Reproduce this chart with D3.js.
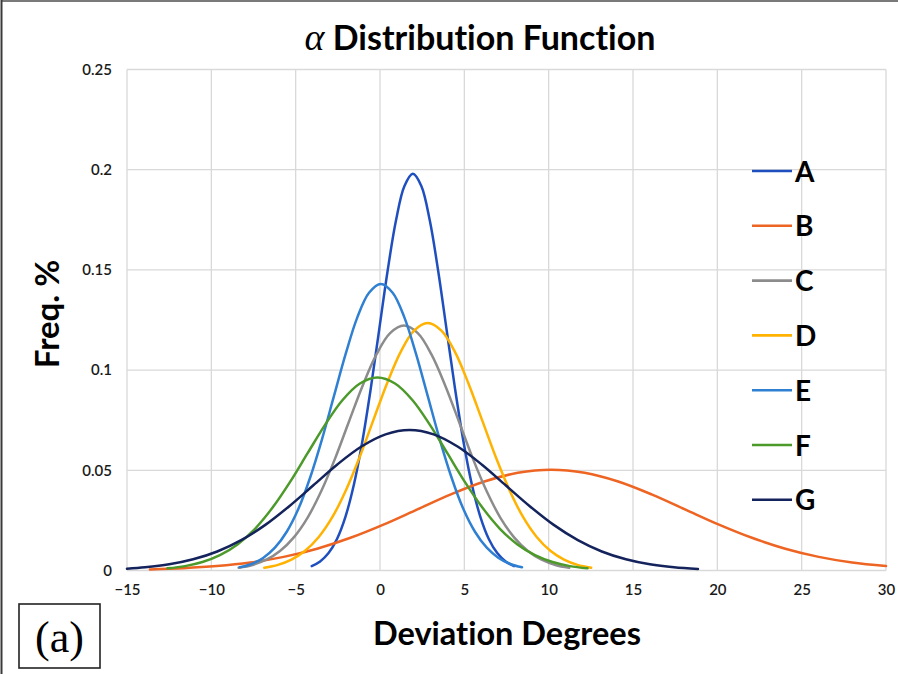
<!DOCTYPE html>
<html>
<head>
<meta charset="utf-8">
<script src="https://cdn.jsdelivr.net/npm/d3@7"></script>
<style>
  html, body { margin: 0; padding: 0; background: #fff; }
  svg { display: block; }
  text { font-variant-ligatures: none; }
</style>
</head>
<body>
<svg id="chart" width="898" height="674"></svg>
<script>
// Frequency curves of the deviation angle for the seven groups A–G
const seriesNames = ["A", "B", "C", "D", "E", "F", "G"];
const seriesColors = ["#1f4fbf", "#ee6422", "#8c8c8c", "#ffb200", "#2f80d2", "#4c9a2a", "#14235c"];

const xA = [-4.05, -3.55, -3.05, -2.55, -2.05, -1.55, -1.05, -0.55, -0.05, 0.45, 0.95, 1.45, 1.95,
            2.45, 2.95, 3.45, 3.95, 4.45, 4.95, 5.45, 5.95, 6.45, 6.95, 7.45, 7.95];
const yA = [0.0022, 0.00451, 0.0087, 0.01575, 0.0268, 0.04282, 0.06428, 0.09065, 0.12009, 0.14946, 0.17474, 0.19191, 0.198,
            0.19191, 0.17474, 0.14946, 0.12009, 0.09065, 0.06428, 0.04282, 0.0268, 0.01575, 0.0087, 0.00451, 0.0022];

const xB = [-13.64, -11.66, -9.68, -7.69, -5.71, -3.73, -1.75, 0.24, 2.22, 4.20, 6.19, 8.17, 10.15,
            12.13, 14.12, 16.10, 18.08, 20.06, 22.05, 24.03, 26.01, 27.99, 30];
const yB = [0.00056, 0.00115, 0.00221, 0.004, 0.00681, 0.01088, 0.01633, 0.02303, 0.03051, 0.03797, 0.04439, 0.04875, 0.0503,
            0.04875, 0.04439, 0.03797, 0.03051, 0.02303, 0.01633, 0.01088, 0.00681, 0.004, 0.00221];

const xC = [-8.38, -7.56, -6.74, -5.93, -5.11, -4.29, -3.48, -2.66, -1.85, -1.03, -0.21, 0.60, 1.42,
            2.24, 3.05, 3.87, 4.69, 5.50, 6.32, 7.13, 7.95, 8.77, 9.58, 10.40, 11.22];
const yC = [0.00136, 0.00278, 0.00537, 0.00972, 0.01654, 0.02643, 0.03967, 0.05595, 0.07412, 0.09224, 0.10784, 0.11844, 0.1222,
            0.11844, 0.10784, 0.09224, 0.07412, 0.05595, 0.03967, 0.02643, 0.01654, 0.00972, 0.00537, 0.00278, 0.00136];

const xD = [-6.86, -6.05, -5.25, -4.44, -3.63, -2.82, -2.02, -1.21, -0.40, 0.41, 1.22, 2.02, 2.83,
            3.64, 4.45, 5.25, 6.06, 6.87, 7.68, 8.48, 9.29, 10.10, 10.91, 11.71, 12.52];
const yD = [0.00137, 0.00281, 0.00543, 0.00983, 0.01671, 0.02671, 0.04009, 0.05654, 0.07491, 0.09322, 0.10899, 0.1197, 0.1235,
            0.1197, 0.10899, 0.09322, 0.07491, 0.05654, 0.04009, 0.02671, 0.01671, 0.00983, 0.00543, 0.00281, 0.00137];

const xE = [-8.32, -7.62, -6.93, -6.23, -5.53, -4.83, -4.14, -3.44, -2.74, -2.04, -1.35, -0.65, 0.05,
            0.75, 1.45, 2.14, 2.84, 3.54, 4.24, 4.93, 5.63, 6.33, 7.03, 7.72, 8.42];
const yE = [0.00159, 0.00326, 0.00628, 0.01138, 0.01935, 0.03093, 0.04642, 0.06547, 0.08673, 0.10794, 0.1262, 0.1386, 0.143,
            0.1386, 0.1262, 0.10794, 0.08673, 0.06547, 0.04642, 0.03093, 0.01935, 0.01138, 0.00628, 0.00326, 0.00159];

const xF = [-12.6, -11.56, -10.53, -9.49, -8.45, -7.41, -6.38, -5.34, -4.30, -3.26, -2.23, -1.19, -0.15,
            0.89, 1.93, 2.96, 4.0, 5.04, 6.08, 7.11, 8.15, 9.19, 10.23, 11.26, 12.3];
const yF = [0.00107, 0.00219, 0.00423, 0.00766, 0.01303, 0.02083, 0.03126, 0.04409, 0.05841, 0.07269, 0.08498, 0.09334, 0.0963,
            0.09334, 0.08498, 0.07269, 0.05841, 0.04409, 0.03126, 0.02083, 0.01303, 0.00766, 0.00423, 0.00219, 0.00107];

const xG = [-15, -13.93, -12.5, -11.08, -9.65, -8.23, -6.8, -5.38, -3.95, -2.53, -1.1, 0.33, 1.75,
            3.18, 4.6, 6.03, 7.45, 8.88, 10.3, 11.73, 13.15, 14.58, 16.0, 17.43, 18.85];
const yG = [0.00093, 0.0016, 0.00308, 0.00558, 0.00949, 0.01516, 0.02276, 0.03209, 0.04252, 0.05291, 0.06186, 0.06794, 0.0701,
            0.06794, 0.06186, 0.05291, 0.04252, 0.03209, 0.02276, 0.01516, 0.00949, 0.00558, 0.00308, 0.0016, 0.00078];

const xTicks = [-15, -10, -5, 0, 5, 10, 15, 20, 25, 30];
const yTicks = [0, 0.05, 0.1, 0.15, 0.2, 0.25];

const seriesX = [xA, xB, xC, xD, xE, xF, xG];
const seriesY = [yA, yB, yC, yD, yE, yF, yG];

const svg = d3.select("#chart");
const W = 898, H = 674;
const plot = { left: 127, right: 886, top: 69.5, bottom: 570.5 };

const x = d3.scaleLinear().domain([-15, 30]).range([plot.left, plot.right]);
const y = d3.scaleLinear().domain([0, 0.25]).range([plot.bottom, plot.top]);

// outer frame (top and left edges)
svg.append("line").attr("x1", 1).attr("x2", W).attr("y1", 1).attr("y2", 1)
  .attr("stroke", "#7a7a7a").attr("stroke-width", 2);
svg.append("line").attr("x1", 1.5).attr("x2", 1.5).attr("y1", 0).attr("y2", H)
  .attr("stroke", "#3a3a3a").attr("stroke-width", 2);

// gridlines
const grid = svg.append("g").attr("class", "grid");
grid.selectAll("line.v").data(xTicks).join("line")
  .attr("class", "v")
  .attr("x1", d => x(d)).attr("x2", d => x(d))
  .attr("y1", plot.top).attr("y2", plot.bottom)
  .attr("stroke", "#d9d9d9").attr("stroke-width", 1.3);
grid.selectAll("line.h").data(yTicks).join("line")
  .attr("class", "h")
  .attr("x1", plot.left).attr("x2", plot.right)
  .attr("y1", d => y(d)).attr("y2", d => y(d))
  .attr("stroke", "#d9d9d9").attr("stroke-width", 1.3);

// axes (labels only)
const uiFont = "Lato, 'Open Sans', sans-serif";
const xAxis = d3.axisBottom(x).tickValues(xTicks).tickSize(0).tickPadding(14).tickFormat(d3.format("d"));
const gx = svg.append("g").attr("transform", `translate(0,${plot.bottom})`).call(xAxis);
gx.select(".domain").remove();
gx.selectAll("text").attr("font-family", uiFont).attr("font-size", 15).attr("font-weight", 600).attr("fill", "#1a1a1a");

const yAxis = d3.axisLeft(y).tickValues(yTicks).tickSize(0).tickPadding(15).tickFormat(d => d === 0 ? "0" : String(+d.toFixed(2)));
const gy = svg.append("g").attr("transform", `translate(${plot.left},0)`).call(yAxis);
gy.select(".domain").remove();
gy.selectAll("text").attr("font-family", uiFont).attr("font-size", 15).attr("font-weight", 600).attr("fill", "#1a1a1a");

// curves
const line = d3.line()
  .x(d => x(d[0]))
  .y(d => y(d[1]))
  .curve(d3.curveCatmullRom.alpha(0.5));

const curves = svg.append("g").attr("class", "curves");
seriesNames.forEach((name, i) => {
  const pts = seriesX[i].map((v, j) => [v, seriesY[i][j]]);
  curves.append("path")
    .datum(pts)
    .attr("d", line)
    .attr("fill", "none")
    .attr("stroke", seriesColors[i])
    .attr("stroke-width", 2.5)
    .attr("stroke-linecap", "round");
});

// legend
const legend = svg.append("g").attr("class", "legend");
const legTop = 171, legStep = 54.8;
seriesNames.forEach((name, i) => {
  const ly = legTop + i * legStep;
  legend.append("line")
    .attr("x1", 752).attr("x2", 792).attr("y1", ly).attr("y2", ly)
    .attr("stroke", seriesColors[i]).attr("stroke-width", 2.6);
  legend.append("text")
    .attr("x", 795).attr("y", ly + 10.5)
    .attr("font-family", uiFont).attr("font-size", 28).attr("font-weight", 700)
    .attr("fill", "#000")
    .text(name);
});

// title
const title = svg.append("text")
  .attr("x", 480).attr("y", 50)
  .attr("text-anchor", "middle")
  .attr("fill", "#000");
title.append("tspan")
  .attr("font-family", "'Liberation Serif', 'DejaVu Serif', serif")
  .attr("font-style", "italic")
  .attr("font-size", 38)
  .text("α");
title.append("tspan")
  .attr("font-family", uiFont)
  .attr("font-weight", 700)
  .attr("font-size", 34)
  .text(" Distribution Function");

// axis titles
svg.append("text")
  .attr("x", 507).attr("y", 645)
  .attr("text-anchor", "middle")
  .attr("font-family", uiFont).attr("font-weight", 700).attr("font-size", 32.5)
  .attr("fill", "#000")
  .text("Deviation Degrees");

svg.append("text")
  .attr("transform", "translate(59,314) rotate(-90)")
  .attr("text-anchor", "middle")
  .attr("font-family", uiFont).attr("font-weight", 700).attr("font-size", 33)
  .attr("fill", "#000")
  .text("Freq. %");

// panel tag
svg.append("rect")
  .attr("x", 19).attr("y", 604).attr("width", 81).attr("height", 64)
  .attr("fill", "#fff").attr("stroke", "#222").attr("stroke-width", 1.6);
svg.append("text")
  .attr("x", 59.5).attr("y", 652)
  .attr("text-anchor", "middle")
  .attr("font-family", "'Liberation Serif', 'Times New Roman', serif")
  .attr("font-size", 44)
  .attr("fill", "#000")
  .text("(a)");
</script>
</body>
</html>
